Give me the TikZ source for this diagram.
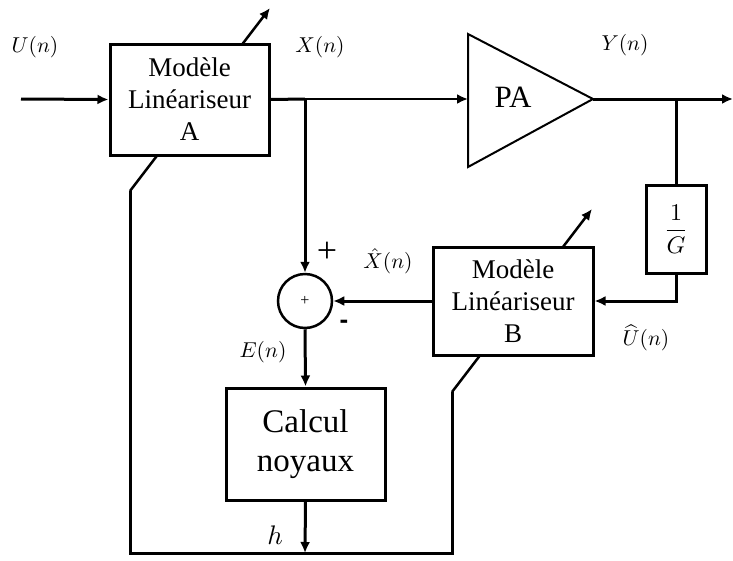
\documentclass[tikz,border=0pt]{standalone}
\usepackage{fontspec}
\setmainfont{Liberation Serif}
\newfontfamily\sansf{Liberation Sans}
\usetikzlibrary{arrows.meta}
\begin{document}
\begin{tikzpicture}[x=1pt,y=-1pt,
  wire/.style={line width=3pt},
  thinwire/.style={line width=2.3pt},
  arr/.style={-{Latex[length=11pt,width=10pt]}},
  adj/.style={line width=2.5pt},
  blk/.style={draw,line width=3pt,fill=white,align=center,inner sep=0pt},
  mtxt/.style={font=\fontsize{27}{32}\selectfont},
  lbl/.style={font=\fontsize{10}{12}\selectfont,inner sep=0pt,scale=2.15}]
\useasboundingbox (0,0) rectangle (733,560);
% coordinates
\coordinate (in) at (21,99);
\coordinate (j1) at (305,99);
\coordinate (paL) at (468,99);
\coordinate (paT) at (593,99);
\coordinate (paUp) at (468,34);
\coordinate (paDn) at (468,167);
\coordinate (j2) at (676,99);
\coordinate (out) at (733,99);
\coordinate (adjA0) at (130,191);
\coordinate (adjA1) at (270,8);
\coordinate (adjB0) at (452,392);
\coordinate (adjB1) at (592,209);
\coordinate (bl) at (130,553);
\coordinate (br) at (452,553);
\coordinate (hpt) at (305,553);
% adjustment arrows (behind boxes)
\draw[adj,arr] (adjA0) -- (adjA1);
\draw[adj,arr] (adjB0) -- (adjB1);
% blocks
\node[blk,mtxt,minimum width=159pt,minimum height=111pt] (A) at (189.5,99.5) {Modèle\\Linéariseur\\A};
\node[blk,mtxt,minimum width=160pt,minimum height=108pt] (B) at (513,301) {Modèle\\Linéariseur\\B};
\node[blk,minimum width=60pt,minimum height=88pt] (G) at (676,229) {};
\node[inner sep=0pt,scale=2.4,font=\fontsize{10}{12}\selectfont] (Gt) at (G.center) {$\displaystyle\frac{1}{G}$};
\node[blk,minimum width=159pt,minimum height=112pt,font=\fontsize{33}{39}\selectfont] (C) at (305.5,444) {Calcul\\noyaux};
\node[draw,circle,line width=2.5pt,minimum size=54pt,inner sep=0pt,fill=white,font=\fontsize{16}{16}\selectfont] (S) at (305,301) {+};
% PA triangle
\draw[line width=2pt,fill=white] (paUp) -- (paT) -- (paDn) -- cycle;
\node[font=\fontsize{31}{36}\selectfont] (PA) at (513,97) {PA};
% connectors
\draw[wire,arr] (in) -- (A.west);
\draw[wire] (A.east) -- (j1);
\draw[thinwire,arr] (j1) -- (paL);
\draw[wire,arr] (j1) -- (S.north);
\draw[wire] (paT) -- (j2);
\draw[wire,arr] (j2) -- (out);
\draw[wire] (j2) -- (G.north);
\draw[wire,arr] (G.south) |- (B.east);
\draw[wire,arr] (B.west) -- (S.east);
\draw[wire,arr] (S.south) -- (C.north);
\draw[wire,arr] (C.south) -- (hpt);
\draw[wire] (adjA0) -- (bl) -- (br) -- (adjB0);
% labels
\node[lbl] (lU) at (35,47) {$U(n)$};
\node[lbl] (lX) at (320,47) {$X(n)$};
\node[lbl] (lY) at (625,45) {$Y(n)$};
\node[lbl] (lXh) at (388,261) {$\hat{X}(n)$};
\node[lbl] (lUh) at (646,338) {$\widehat{U}(n)$};
\node[lbl] (lE) at (263,352) {$E(n)$};
\node[lbl,scale=1.25] (lh) at (275,535) {$h$};
\node[inner sep=0pt,font=\fontsize{36}{36}\selectfont] (plus) at (327,252) {+};
\node[inner sep=0pt,font=\sansf\bfseries\fontsize{26}{26}\selectfont] (minus) at (344,324) {-};
\end{tikzpicture}
\end{document}
